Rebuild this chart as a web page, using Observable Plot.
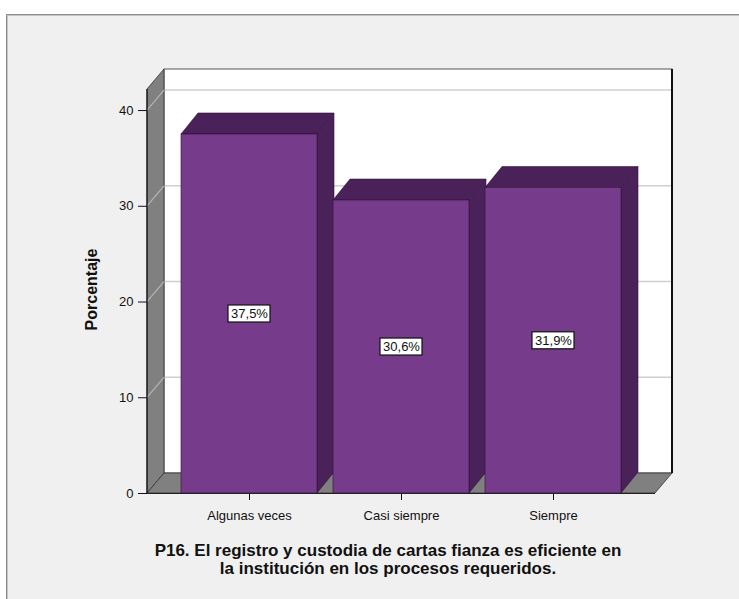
<!DOCTYPE html>
<html><head><meta charset="utf-8">
<script src="https://cdn.jsdelivr.net/npm/d3@7"></script>
<script src="https://cdn.jsdelivr.net/npm/@observablehq/plot@0.6"></script>
<style>
body{margin:0;background:#fff;width:739px;height:599px;overflow:hidden;position:relative;font-family:"Liberation Sans",Arial,sans-serif}
#frame{position:absolute;left:6px;top:14px;width:800px;height:700px;border:1px solid #8c8c8c;background:#f0f0f0;box-shadow:inset 1px 1px 0 #c4c4c4}
#chart{position:absolute;left:0;top:0}
#title{position:absolute;left:0;top:542px;width:776px;text-align:center;font-weight:bold;font-size:17px;line-height:18px;color:#111}
</style></head><body>
<div id="frame"></div><div id="chart"></div>
<div id="title">P16. El registro y custodia de cartas fianza es eficiente en<br>la institución en los procesos requeridos.</div>
<script>
const categories = ["Algunas veces", "Casi siempre", "Siempre"];
const percentages = [37.5, 30.6, 31.9];
const valueLabels = ["37,5%", "30,6%", "31,9%"];
const yTicks = [0, 10, 20, 30, 40];
const gridTicks = [10, 20, 30, 40];
const yTitle = "Porcentaje";

const data = categories.map((c, i) => ({cat: c, v: percentages[i], label: valueLabels[i]}));
const W = 739, H = 530;
const FRONT = "#773b8c", DARK = "#4b2159", EDGE = "#2f1238";

const chart = Plot.plot({
  width: W, height: H, marginLeft: 147, marginRight: 84, marginTop: 89, marginBottom: 37,
  style: {background: "transparent", fontFamily: "'Liberation Sans', Arial, sans-serif", fontSize: "13px", color: "#111"},
  x: {domain: categories, paddingInner: 0.105, paddingOuter: 0.216, align: 0.5, label: null, tickSize: 7, tickPadding: 10},
  y: {domain: [0, 42.2], ticks: yTicks, tickSize: 9, tickPadding: 5, label: null},
  marks: [
    Plot.barY(data, {x: "cat", y: "v", fill: FRONT, stroke: EDGE, strokeWidth: 0.6}),
    Plot.barY(data, {x: "cat", y1: d => d.v / 2, y2: d => d.v / 2, insetLeft: 47, insetRight: 47, insetTop: -8.5, insetBottom: -8.5, fill: "white", stroke: "#111", strokeWidth: 1.2}),
    Plot.text(data, {x: "cat", y: d => d.v / 2, text: "label", fill: "#111", fontSize: 13}),
    Plot.ruleY([0], {stroke: "#222", strokeWidth: 1.2}),
    Plot.text([yTitle], {frameAnchor: "left", textAnchor: "middle", dx: -56, dy: -2, rotate: -90, fontWeight: "bold", fontSize: 16, fill: "#111"})
  ]
});
document.getElementById("chart").appendChild(chart);

// 3D decorations built from the plot's own scales
const sx = chart.scale("x"), sy = chart.scale("y");
const bw = sx.bandwidth;
const r0 = Math.min(...sx.range), r1 = Math.max(...sx.range);
const y0 = sy.apply(0), yTop = sy.apply(sy.domain[1]);
const DX = 17, DY = -20, BDX = 17, BDY = -21;
const ns = "http://www.w3.org/2000/svg";
const gNode = document.createElementNS(ns, "g");
const first = chart.querySelector(":scope > g, :scope > rect, :scope > path, :scope > text");
chart.insertBefore(gNode, first);
const g = d3.select(gNode);
const poly = pts => pts.map(p => p.join(",")).join(" ");

g.append("rect").attr("x", r0 + DX).attr("y", yTop + DY).attr("width", r1 - r0).attr("height", y0 - yTop)
  .attr("fill", "white").attr("stroke", "#555").attr("stroke-width", 1);
g.selectAll("line.grid").data(gridTicks).join("line").attr("class", "grid")
  .attr("x1", r0 + DX).attr("x2", r1 + DX).attr("y1", t => sy.apply(t) + DY).attr("y2", t => sy.apply(t) + DY)
  .attr("stroke", "#cfcfcf").attr("stroke-width", 1.5);
g.append("line").attr("x1", r1 + DX).attr("x2", r1 + DX).attr("y1", yTop + DY).attr("y2", y0 + DY)
  .attr("stroke", "#111").attr("stroke-width", 2);
g.append("polygon").attr("points", poly([[r0, y0], [r0, yTop], [r0 + DX, yTop + DY], [r0 + DX, y0 + DY]]))
  .attr("fill", "#808080").attr("stroke", "#333").attr("stroke-width", 0.8);
g.selectAll("line.wgrid").data(gridTicks).join("line").attr("class", "wgrid")
  .attr("x1", r0).attr("x2", r0 + DX).attr("y1", t => sy.apply(t)).attr("y2", t => sy.apply(t) + DY)
  .attr("stroke", "#b4b4b4").attr("stroke-width", 1.2);
g.append("polygon").attr("points", poly([[r0, y0], [r1, y0], [r1 + DX, y0 + DY], [r0 + DX, y0 + DY]]))
  .attr("fill", "#808080").attr("stroke", "#333").attr("stroke-width", 0.8);
g.append("line").attr("x1", r0).attr("x2", r0).attr("y1", y0).attr("y2", yTop)
  .attr("stroke", "#111").attr("stroke-width", 1.2);
data.forEach(d => {
  const x1 = sx.apply(d.cat), x2 = x1 + bw, ty = sy.apply(d.v);
  g.append("polygon").attr("points", poly([[x1, ty], [x1 + BDX, ty + BDY], [x2 + BDX, ty + BDY], [x2, ty]]))
    .attr("fill", DARK).attr("stroke", EDGE).attr("stroke-width", 0.6);
  g.append("polygon").attr("points", poly([[x2, ty], [x2 + BDX, ty + BDY], [x2 + BDX, y0 + BDY], [x2, y0]]))
    .attr("fill", DARK).attr("stroke", EDGE).attr("stroke-width", 0.6);
});
</script>
</body></html>
